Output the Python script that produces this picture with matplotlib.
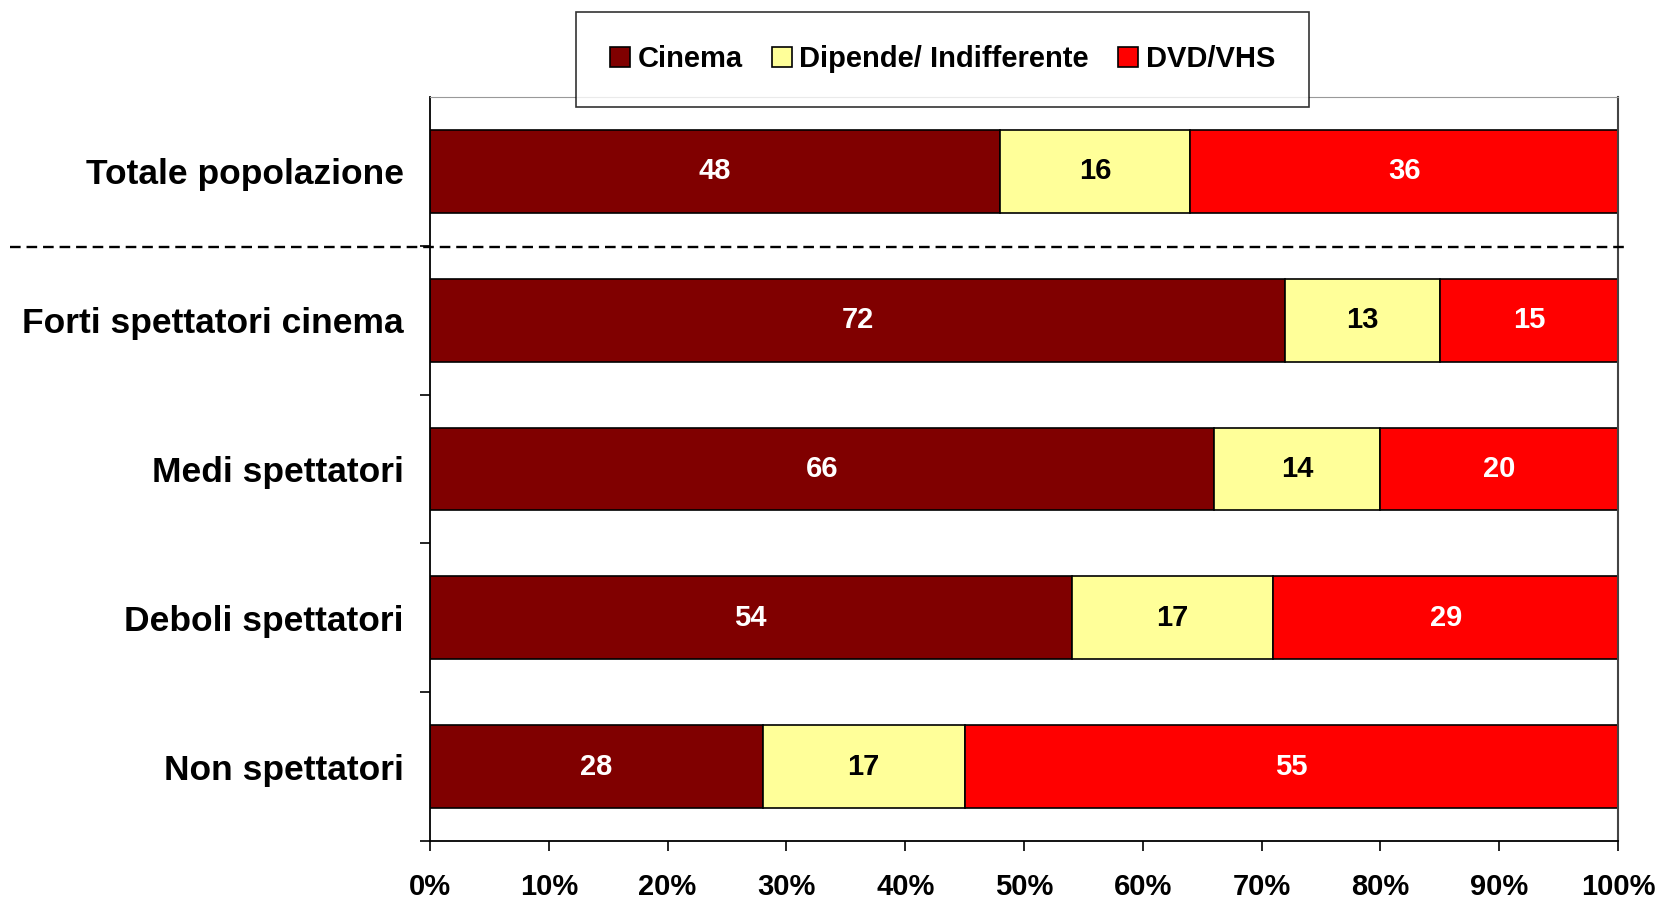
import numpy as np
from matplotlib import pyplot as plt
from matplotlib.lines import Line2D

plt.rcParams['font.family'] = ['Liberation Sans', 'DejaVu Sans']
plt.rcParams['font.weight'] = 'bold'

categories = ["Totale popolazione", "Forti spettatori cinema", "Medi spettatori",
              "Deboli spettatori", "Non spettatori"]
cinema = [48, 72, 66, 54, 28]
dipende = [16, 13, 14, 17, 17]
dvd = [36, 15, 20, 29, 55]
series_names = ["Cinema", "Dipende/ Indifferente", "DVD/VHS"]
colors = ["#800000", "#FFFF99", "#FF0000"]
xticks = [0, 10, 20, 30, 40, 50, 60, 70, 80, 90, 100]

fig = plt.figure(figsize=(16.62, 8.99), dpi=100)
ax = fig.add_axes([430/1662, 1-841/899, (1618-430)/1662, (841-97)/899])

y = np.arange(len(categories))
left = np.zeros(len(categories))
for vals, name, col in zip([cinema, dipende, dvd], series_names, colors):
    vals = np.array(vals)
    ax.barh(y, vals, left=left, height=0.557, color=col, edgecolor='black',
            linewidth=1.2, label=name)
    txtcol = 'black' if col == "#FFFF99" else 'white'
    for yi, l, v in zip(y, left, vals):
        ax.text(l + v/2, yi, str(v), ha='center', va='center', color=txtcol,
                fontsize=21, fontweight='bold')
    left = left + vals

ax.set_xlim(0, 100)
ax.set_ylim(len(categories) - 0.5, -0.5)
ax.set_xticks(xticks)
ax.set_xticklabels([f"{t}%" for t in xticks], fontsize=21, fontweight='bold')
ax.tick_params(axis='x', direction='out', length=7, width=1.2, pad=16)
ax.set_yticks(y)
ax.set_yticklabels(categories, fontsize=25.5, fontweight='bold')
ax.tick_params(axis='y', which='major', length=0, pad=19)
ax.set_yticks(np.arange(0.5, len(categories) + 0.5, 1), minor=True)
ax.tick_params(axis='y', which='minor', direction='out', length=7, width=1.2)

ax.spines['left'].set_linewidth(1.3)
ax.spines['bottom'].set_linewidth(1.3)
ax.spines['top'].set_color('#999999')
ax.spines['right'].set_color('#444444')
ax.spines['right'].set_linewidth(1.5)

# dashed separator after the total row
sep = 1 - 247/899
fig.add_artist(Line2D([10/1662, 1625/1662], [sep, sep], color='black',
                      linestyle=(0, (4.5, 2.5)), linewidth=1.7))

leg = fig.legend(loc='center', bbox_to_anchor=(0.567, 0.934), ncol=3,
                 fontsize=21, frameon=True, fancybox=False, edgecolor='black',
                 handlelength=0.7, handleheight=0.7, handletextpad=0.25,
                 columnspacing=1.0, borderpad=1.15, borderaxespad=0)
leg.get_frame().set_linewidth(1.2)
for t in leg.get_texts():
    t.set_fontweight('bold')

fig.savefig('out.png', dpi=100, facecolor='white')
